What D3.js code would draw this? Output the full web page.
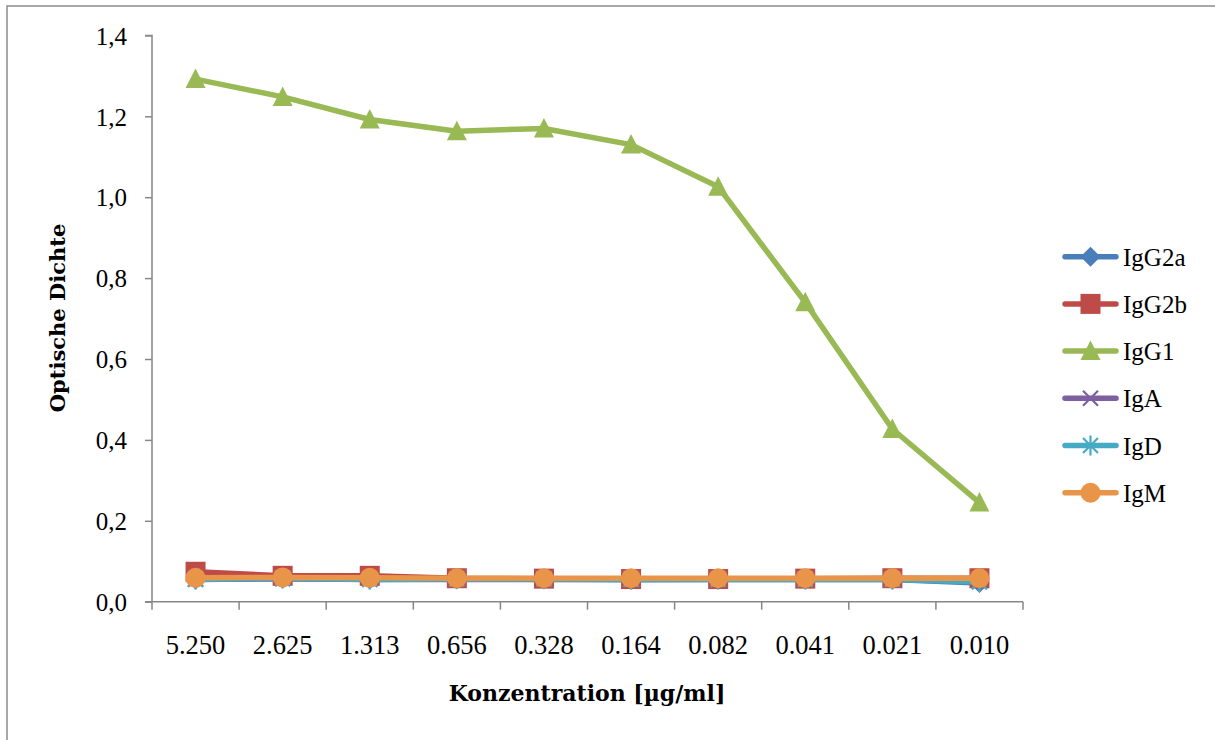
<!DOCTYPE html>
<html>
<head>
<meta charset="utf-8">
<script src="https://cdn.jsdelivr.net/npm/d3@7/dist/d3.min.js"></script>
<style>
  html, body { margin: 0; padding: 0; background: #fff; }
  svg { display: block; }
  text { font-family: "Liberation Serif", "DejaVu Serif", serif; fill: #000; }
  .axis-title { font-family: "DejaVu Serif", "Liberation Serif", serif; font-weight: bold; }
</style>
</head>
<body>
<svg id="chart" width="1215" height="740"></svg>
<script>
// Konzentrationsstufen (µg/ml) entlang der x-Achse
const categories = ["5.250", "2.625", "1.313", "0.656", "0.328", "0.164", "0.082", "0.041", "0.021", "0.010"];

// Optische Dichte je Isotyp
const igG2a = [0.055, 0.057, 0.055, 0.055, 0.055, 0.054, 0.055, 0.055, 0.055, 0.046];
const igG2b = [0.074, 0.064, 0.064, 0.058, 0.057, 0.056, 0.056, 0.057, 0.058, 0.058];
const igG1  = [1.292, 1.248, 1.192, 1.163, 1.170, 1.130, 1.026, 0.740, 0.427, 0.245];
const igA   = [0.056, 0.057, 0.056, 0.056, 0.056, 0.056, 0.056, 0.056, 0.056, 0.052];
const igD   = [0.055, 0.058, 0.055, 0.056, 0.056, 0.055, 0.055, 0.055, 0.055, 0.049];
const igM   = [0.059, 0.060, 0.059, 0.058, 0.058, 0.058, 0.058, 0.058, 0.058, 0.058];

const seriesNames = ["IgG2a", "IgG2b", "IgG1", "IgA", "IgD", "IgM"];
const yTicks = [0, 0.2, 0.4, 0.6, 0.8, 1.0, 1.2, 1.4];

const series = [
  { name: seriesNames[0], values: igG2a, color: "#4a7ebb", marker: "diamond" },
  { name: seriesNames[1], values: igG2b, color: "#be4b48", marker: "square" },
  { name: seriesNames[2], values: igG1,  color: "#98b954", marker: "triangle" },
  { name: seriesNames[3], values: igA,   color: "#7d60a0", marker: "cross" },
  { name: seriesNames[4], values: igD,   color: "#46aac5", marker: "asterisk" },
  { name: seriesNames[5], values: igM,   color: "#e8954a", marker: "circle" }
];

const svg = d3.select("#chart");
const axisColor = "#878787";

// Rahmen des Diagrammbereichs
svg.append("rect")
  .attr("x", 7).attr("y", 6)
  .attr("width", 1260).attr("height", 800)
  .attr("fill", "none").attr("stroke", "#8c8c8c").attr("stroke-width", 1.5);

const plot = { left: 152, right: 1023, top: 35.4, bottom: 601.7 };

const x = d3.scaleBand().domain(categories).range([plot.left, plot.right]).padding(0);
const y = d3.scaleLinear().domain([0, 1.4]).range([plot.bottom, plot.top]);

// y-Achse
const yAxis = d3.axisLeft(y)
  .tickValues(yTicks)
  .tickSize(7)
  .tickPadding(18)
  .tickFormat(d => d3.format(".1f")(d).replace(".", ","));
const gy = svg.append("g").attr("transform", `translate(${plot.left},0)`).call(yAxis);
gy.select(".domain").attr("stroke", axisColor).attr("stroke-width", 1.5).attr("d", `M-7,${plot.top}H0V${plot.bottom}`);
gy.selectAll(".tick line").attr("stroke", axisColor).attr("stroke-width", 1.5);
gy.selectAll(".tick text").style("font-size", "25px").attr("dy", "0.35em")
  .style("font-family", "\"Liberation Serif\", serif");

// x-Achse mit Teilstrichen an den Kategoriegrenzen
const gx = svg.append("g").attr("transform", `translate(0,${plot.bottom})`);
gx.append("line")
  .attr("x1", plot.left - 7).attr("x2", plot.right)
  .attr("stroke", axisColor).attr("stroke-width", 1.5);
const bounds = categories.map(c => x(c)).concat([x(categories[categories.length - 1]) + x.bandwidth()]);
gx.selectAll("line.tick").data(bounds).join("line")
  .attr("class", "tick")
  .attr("x1", d => d).attr("x2", d => d)
  .attr("y1", 0).attr("y2", 8)
  .attr("stroke", axisColor).attr("stroke-width", 1.5);
gx.selectAll("text.lbl").data(categories).join("text")
  .attr("class", "lbl")
  .attr("x", d => x(d) + x.bandwidth() / 2)
  .attr("y", 52)
  .attr("text-anchor", "middle")
  .style("font-size", "26.5px")
  .text(d => d);

// Achsentitel
svg.append("text")
  .attr("class", "axis-title")
  .attr("x", 587).attr("y", 701)
  .attr("text-anchor", "middle")
  .style("font-size", "22px")
  .text("Konzentration [µg/ml]");
svg.append("text")
  .attr("class", "axis-title")
  .attr("transform", "translate(65,318) rotate(-90)")
  .attr("text-anchor", "middle")
  .style("font-size", "21px")
  .text("Optische Dichte");

// Markierungssymbole
function drawMarker(g, type, color, cx, cy) {
  const s = 10;
  if (type === "diamond") {
    g.append("path").attr("d", `M${cx},${cy - s}L${cx + s},${cy}L${cx},${cy + s}L${cx - s},${cy}Z`)
      .attr("fill", color);
  } else if (type === "square") {
    g.append("rect").attr("x", cx - s).attr("y", cy - s).attr("width", 2 * s).attr("height", 2 * s)
      .attr("fill", color);
  } else if (type === "triangle") {
    g.append("path").attr("d", `M${cx},${cy - 10.5}L${cx + 10},${cy + 9}L${cx - 10},${cy + 9}Z`)
      .attr("fill", color);
  } else if (type === "cross") {
    const r = 7.5;
    g.append("path").attr("d", `M${cx - r},${cy - r}L${cx + r},${cy + r}M${cx - r},${cy + r}L${cx + r},${cy - r}`)
      .attr("stroke", color).attr("stroke-width", 2.2).attr("fill", "none");
  } else if (type === "asterisk") {
    const r = 7.5;
    g.append("path").attr("d", `M${cx - r},${cy - r}L${cx + r},${cy + r}M${cx - r},${cy + r}L${cx + r},${cy - r}M${cx},${cy - 10}V${cy + 10}`)
      .attr("stroke", color).attr("stroke-width", 2.2).attr("fill", "none");
  } else if (type === "circle") {
    g.append("circle").attr("cx", cx).attr("cy", cy).attr("r", 10).attr("fill", color);
  }
}

// Datenreihen
const line = d3.line()
  .x((d, i) => x(categories[i]) + x.bandwidth() / 2)
  .y(d => y(d));

series.forEach(s => {
  const g = svg.append("g").attr("class", "series");
  g.append("path")
    .datum(s.values)
    .attr("d", line)
    .attr("fill", "none")
    .attr("stroke", s.color)
    .attr("stroke-width", 5.5)
    .attr("stroke-linejoin", "round")
    .attr("stroke-linecap", "round");
  s.values.forEach((v, i) => {
    drawMarker(g, s.marker, s.color, x(categories[i]) + x.bandwidth() / 2, y(v));
  });
});

// Legende
const legendY = d3.scalePoint().domain(seriesNames).range([256.7, 492.7]);
const legend = svg.append("g").attr("class", "legend");
series.forEach(s => {
  const ly = legendY(s.name);
  legend.append("line")
    .attr("x1", 1065).attr("x2", 1116).attr("y1", ly).attr("y2", ly)
    .attr("stroke", s.color).attr("stroke-width", 5.5).attr("stroke-linecap", "round");
  drawMarker(legend, s.marker, s.color, 1090.5, ly);
  legend.append("text")
    .attr("x", 1123).attr("y", ly + 9)
    .style("font-size", "25px")
    .text(s.name);
});
</script>
</body>
</html>
